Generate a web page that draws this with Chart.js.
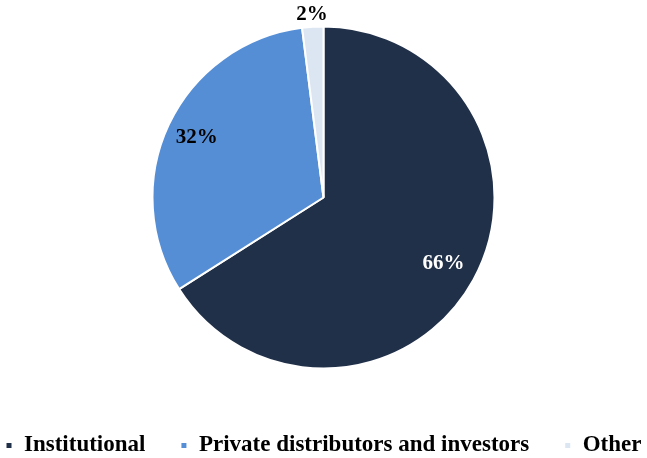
<!DOCTYPE html>
<html>
<head>
<meta charset="utf-8">
<script src="https://cdn.jsdelivr.net/npm/chart.js@4"></script>
<style>
	html, body { margin: 0; padding: 0; background: #fff; }
	.wrap { width: 647px; height: 458px; }
</style>
</head>
<body>
<div class="wrap"><canvas id="myChart"></canvas></div>
<script>
	const categories = ['Institutional', 'Private distributors and investors', 'Other'];
	const shares = [66, 32, 2];
	const sliceColors = ['#213049', '#558ed5', '#dce6f2'];
	const labelColors = ['#ffffff', '#000000', '#000000'];
	const labelRadius = [0.8, 0.82, 1.07];

	// draws the % labels on (or next to) each slice
	const sliceLabels = {
		id: 'sliceLabels',
		afterDatasetsDraw(chart) {
			const ctx = chart.ctx;
			const arcs = chart.getDatasetMeta(0).data;
			ctx.save();
			ctx.font = 'bold 21px "Liberation Serif", serif';
			ctx.textAlign = 'center';
			ctx.textBaseline = 'middle';
			arcs.forEach(function (arc, i) {
				const mid = (arc.startAngle + arc.endAngle) / 2;
				const r = arc.outerRadius * labelRadius[i];
				ctx.fillStyle = labelColors[i];
				ctx.fillText(shares[i] + '%', arc.x + Math.cos(mid) * r, arc.y + Math.sin(mid) * r);
			});
			ctx.restore();
		}
	};

	const ctx = document.getElementById('myChart').getContext('2d');
	const myChart = new Chart(ctx, {
		type: 'pie',
		data: {
			labels: categories,
			datasets: [{
				data: shares,
				backgroundColor: sliceColors,
				borderColor: '#ffffff',
				borderWidth: 2,
				radius: 171
			}]
		},
		options: {
			responsive: true,
			maintainAspectRatio: false,
			animation: false,
			// negative side padding so the wide legend stays on one row
			layout: { padding: { top: 14, left: -40, right: -40, bottom: -9 } },
			plugins: {
				tooltip: { enabled: false },
				legend: {
					position: 'bottom',
					title: { display: true, text: '', padding: 0, font: { size: 15 } },
					labels: {
						color: '#000',
						boxWidth: 7,
						boxHeight: 7,
						padding: 35,
						font: { family: '"Liberation Serif", serif', size: 23, weight: 'bold' }
					}
				}
			}
		},
		plugins: [sliceLabels]
	});
</script>
</body>
</html>
